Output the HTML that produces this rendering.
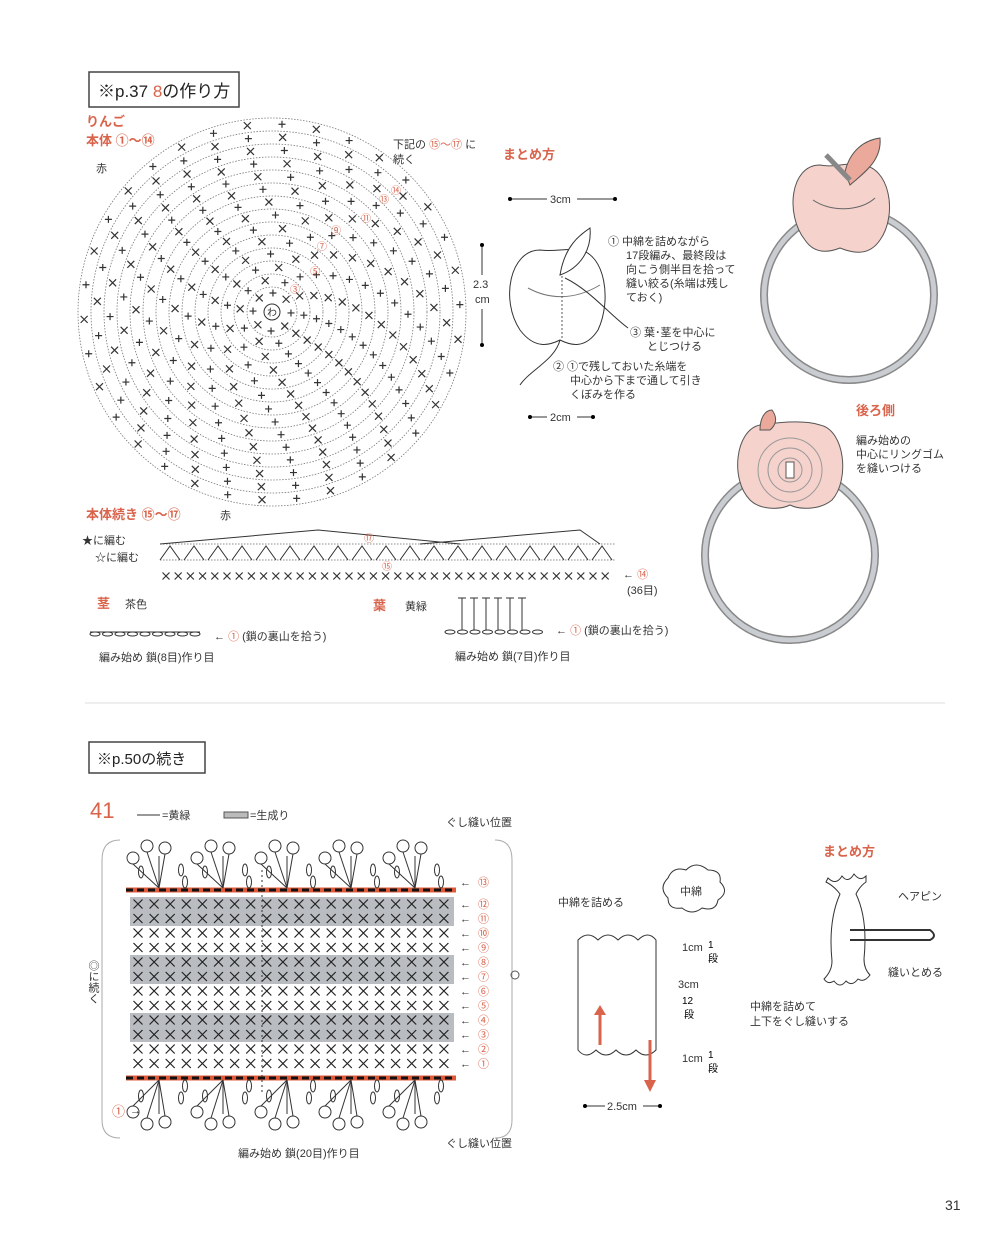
<!DOCTYPE html>
<html><head><meta charset="utf-8">
<style>
html,body{margin:0;padding:0;background:#fff;}
svg{display:block;font-family:"Liberation Sans","Noto Sans CJK JP",sans-serif;}
.r{fill:#d9634b}
.t{fill:#333;font-size:11px}
</style></head><body>
<svg id="s" width="997" height="1240" viewBox="0 0 997 1240" xmlns="http://www.w3.org/2000/svg">
<rect x="89" y="72" width="150" height="35" fill="#fff" stroke="#444" stroke-width="1.5"/>
<text x="98" y="97" font-size="17" fill="#222">※p.37 <tspan fill="#d9634b">8</tspan>の作り方</text>
<text x="86" y="126" font-size="13" class="r" font-weight="bold">りんご</text>
<text x="86" y="145" font-size="13" class="r" font-weight="bold">本体 ①〜⑭</text>
<text x="96" y="172" class="t">赤</text>
<text x="393" y="148" class="t">下記の <tspan fill="#d9634b">⑮〜⑰</tspan> に</text>
<text x="393" y="163" class="t">続く</text>
<g id="circ"></g>
<text x="503" y="159" font-size="13" class="r" font-weight="bold">まとめ方</text>
<line x1="510" y1="199" x2="615" y2="199" stroke="#333"/><circle cx="510" cy="199" r="2"/><circle cx="615" cy="199" r="2"/>
<rect x="547" y="192" width="30" height="14" fill="#fff"/><text x="550" y="203" class="t">3cm</text>
<line x1="482" y1="245" x2="482" y2="345" stroke="#333"/><circle cx="482" cy="245" r="2"/><circle cx="482" cy="345" r="2"/>
<rect x="470" y="275" width="25" height="34" fill="#fff"/><text x="473" y="288" class="t">2.3</text><text x="475" y="303" class="t">cm</text>
<path d="M540 250 C510 250 500 300 520 330 C535 350 550 345 560 340 C570 345 585 350 598 330 C612 300 605 255 580 250 C565 248 555 252 540 250Z" fill="#fff" stroke="#333"/>
<path d="M560 275 C565 245 580 235 590 228 C592 250 580 268 560 275Z" fill="#fff" stroke="#333"/>
<path d="M528 288 C550 300 575 300 600 285" fill="none" stroke="#777"/>
<line x1="562" y1="276" x2="562" y2="340" stroke="#555" stroke-dasharray="2 2"/>
<path d="M560 340 C555 360 530 370 520 385" fill="none" stroke="#333"/>
<path d="M565 278 C590 290 610 315 628 328" fill="none" stroke="#333"/>
<text x="608" y="245" class="t">① 中綿を詰めながら</text>
<text x="626" y="259" class="t">17段編み、最終段は</text>
<text x="626" y="273" class="t">向こう側半目を拾って</text>
<text x="626" y="287" class="t">縫い絞る(糸端は残し</text>
<text x="626" y="301" class="t">ておく)</text>
<text x="630" y="336" class="t">③ 葉･茎を中心に</text>
<text x="647" y="350" class="t">とじつける</text>
<text x="553" y="370" class="t">② ①で残しておいた糸端を</text>
<text x="570" y="384" class="t">中心から下まで通して引き</text>
<text x="570" y="398" class="t">くぼみを作る</text>
<line x1="530" y1="417" x2="593" y2="417" stroke="#333"/><circle cx="530" cy="417" r="2"/><circle cx="593" cy="417" r="2"/>
<rect x="547" y="410" width="30" height="14" fill="#fff"/><text x="550" y="421" class="t">2cm</text>
<circle cx="849" cy="295" r="85" fill="none" stroke="#888" stroke-width="8"/>
<circle cx="849" cy="295" r="85" fill="none" stroke="#c9ccd0" stroke-width="5"/>
<path d="M820 165 C790 165 785 215 805 240 C815 255 830 252 840 248 C850 252 868 258 880 240 C898 215 890 165 860 165 C845 162 835 168 820 165Z" fill="#f5d2cc" stroke="#555"/>
<path d="M845 172 C850 150 865 140 880 138 C882 160 865 172 850 185Z" fill="#eba99b" stroke="#555"/>
<path d="M826 155 L850 180" stroke="#888" stroke-width="5"/>
<path d="M813 200 C830 212 860 212 875 198" fill="none" stroke="#666"/>
<text x="856" y="415" font-size="13" class="r" font-weight="bold">後ろ側</text>
<text x="856" y="444" class="t">編み始めの</text>
<text x="856" y="458" class="t">中心にリングゴム</text>
<text x="856" y="472" class="t">を縫いつける</text>
<circle cx="790" cy="555" r="85" fill="none" stroke="#888" stroke-width="8"/>
<circle cx="790" cy="555" r="85" fill="none" stroke="#c9ccd0" stroke-width="5"/>
<path d="M760 425 C735 430 730 480 750 500 C760 510 780 510 790 505 C800 510 820 510 832 500 C850 480 845 430 820 425 C805 420 780 422 760 425Z" fill="#f5d2cc" stroke="#555"/>
<path d="M760 430 C760 418 765 410 772 410 C778 418 776 425 770 430Z" fill="#eba99b" stroke="#555"/>
<circle cx="790" cy="470" r="12" fill="none" stroke="#999"/><circle cx="790" cy="470" r="22" fill="none" stroke="#999"/><circle cx="790" cy="470" r="32" fill="none" stroke="#999"/>
<rect x="786" y="462" width="8" height="16" fill="#fff" stroke="#555"/>
<text x="86" y="519" font-size="13" class="r" font-weight="bold">本体続き ⑮〜⑰</text>
<text x="220" y="519" class="t">赤</text>
<text x="82" y="544" class="t">★に編む</text>
<text x="95" y="561" class="t">☆に編む</text>
<g id="cont"></g>
<text x="623" y="578" class="t">← <tspan fill="#d9634b">⑭</tspan></text>
<text x="627" y="594" class="t">(36目)</text>
<text x="97" y="608" font-size="13" class="r" font-weight="bold">茎</text>
<text x="125" y="608" class="t">茶色</text>
<text x="373" y="610" font-size="13" class="r" font-weight="bold">葉</text>
<text x="405" y="610" class="t">黄緑</text>
<g id="stem"></g>
<text x="214" y="640" class="t">← <tspan fill="#d9634b">①</tspan> (鎖の裏山を拾う)</text>
<text x="99" y="661" class="t">編み始め 鎖(8目)作り目</text>
<text x="556" y="634" class="t">← <tspan fill="#d9634b">①</tspan> (鎖の裏山を拾う)</text>
<text x="455" y="660" class="t">編み始め 鎖(7目)作り目</text>
<line x1="85" y1="703" x2="945" y2="703" stroke="#ddd"/>
<rect x="89" y="742" width="116" height="31" fill="#fff" stroke="#444" stroke-width="1.5"/>
<text x="97" y="764" font-size="15" fill="#222">※p.50の続き</text>
<text x="90" y="818" font-size="22" fill="#d9634b">41</text>
<line x1="137" y1="815" x2="160" y2="815" stroke="#333"/><text x="162" y="819" class="t">=黄緑</text>
<rect x="224" y="812" width="24" height="6" fill="#bbb" stroke="#555"/><text x="250" y="819" class="t">=生成り</text>
<text x="446" y="826" class="t">ぐし縫い位置</text>
<text x="446" y="1147" class="t">ぐし縫い位置</text>
<text x="238" y="1157" class="t">編み始め 鎖(20目)作り目</text>
<path d="M120 840 Q102 840 102 860 L102 1120 Q102 1138 120 1138" fill="none" stroke="#aaa"/>
<path d="M495 840 Q512 840 512 860 L512 1120 Q512 1138 495 1138" fill="none" stroke="#aaa"/>
<text x="93" y="960" font-size="11" fill="#333" writing-mode="tb">◎に続く</text>
<circle cx="515" cy="975" r="4" fill="none" stroke="#555"/>
<text x="112" y="1116" font-size="13" class="r">①</text><text x="130" y="1114" class="t">→</text>
<g id="grid"></g>
<text x="558" y="906" class="t">中綿を詰める</text>
<path d="M668 878 q5-12 18-8 q10-10 22 0 q14 0 12 12 q10 10-2 18 q-2 12-16 8 q-10 8-20 0 q-14 2-14-10 q-10-10 0-20z" fill="#fff" stroke="#333"/>
<text x="680" y="895" class="t">中綿</text>
<path d="M578 940 q10-10 20 0 q10-10 20 0 q10-10 20 0 q10-10 18 0 l0 110 q-10 10-20 0 q-10 10-20 0 q-10 10-20 0 q-10 10-18 0z" fill="#fff" stroke="#333"/>
<path d="M600 1045 L600 1010" stroke="#d9634b" stroke-width="3"/><path d="M594 1015 L600 1005 L606 1015Z" fill="#d9634b"/>
<path d="M650 1040 L650 1085" stroke="#d9634b" stroke-width="3"/><path d="M644 1080 L650 1092 L656 1080Z" fill="#d9634b"/>
<text x="682" y="951" class="t">1cm</text><text x="708" y="948" font-size="10">1</text><text x="708" y="962" font-size="10">段</text>
<text x="678" y="988" class="t">3cm</text><text x="682" y="1004" font-size="10">12</text><text x="684" y="1018" font-size="10">段</text>
<text x="682" y="1062" class="t">1cm</text><text x="708" y="1058" font-size="10">1</text><text x="708" y="1072" font-size="10">段</text>
<line x1="585" y1="1106" x2="660" y2="1106" stroke="#333"/><circle cx="585" cy="1106" r="2"/><circle cx="660" cy="1106" r="2"/>
<rect x="605" y="1099" width="38" height="14" fill="#fff"/><text x="607" y="1110" class="t">2.5cm</text>
<text x="823" y="856" font-size="13" class="r" font-weight="bold">まとめ方</text>
<path d="M828 878 q8 8 14-2 q6 8 12-2 q6 8 12 2 l0 6 q-6 4-10 12 q12 25 8 65 q0 10 6 16 q-6 8-12 4 q-6 8-12 2 q-6 8-12 0 q-6 4-10-2 q8-8 8-18 q-4-40 8-67 q-6-8-14-12z" fill="#fff" stroke="#333"/>
<path d="M850 930 L930 930 Q938 936 930 940 L850 940" fill="none" stroke="#333" stroke-width="2"/>
<text x="898" y="900" class="t">ヘアピン</text>
<text x="888" y="976" class="t">縫いとめる</text>
<text x="750" y="1010" class="t">中綿を詰めて</text>
<text x="750" y="1025" class="t">上下をぐし縫いする</text>
<text x="945" y="1210" font-size="14" fill="#333">31</text>
</svg>
<script>
const NS="http://www.w3.org/2000/svg";
function el(p,t,a){const e=document.createElementNS(NS,t);for(const k in a)e.setAttribute(k,a[k]);p.appendChild(e);return e;}
function X(p,x,y,s,c){el(p,'path',{d:`M${x-s} ${y-s}L${x+s} ${y+s}M${x+s} ${y-s}L${x-s} ${y+s}`,stroke:c||'#333','stroke-width':1.2});}
function P(p,x,y,s){el(p,'path',{d:`M${x-s} ${y}L${x+s} ${y}M${x} ${y-s}L${x} ${y+s}`,stroke:'#333','stroke-width':1.2});}
const c=document.getElementById('circ');const cx=272,cy=312;
for(let i=1;i<=14;i++){const r=12+i*13;
 el(c,'circle',{cx,cy,r,fill:'none',stroke:'#777','stroke-width':0.8,'stroke-dasharray':'1.5 1.5'});
 const n=6+i*2;for(let k=0;k<n;k++){const a=k/n*2*Math.PI+i*0.05;const rr=r-6;
  const x=cx+rr*Math.cos(a),y=cy+rr*Math.sin(a);(k%2?X:P)(c,x,y,3.5);}}
el(c,'circle',{cx,cy,r:8,fill:'#fff',stroke:'#333'});
el(c,'text',{x:cx-5,y:cy+4,'font-size':10,fill:'#333'}).textContent='わ';
[['③',295,289],['⑤',315,271],['⑦',322,246],['⑨',336,230],['⑪',366,218],['⑬',384,199],['⑭',396,190]].forEach(a=>{el(c,'text',{x:a[1]-5,y:a[2]+4,'font-size':10,fill:'#d9634b'}).textContent=a[0];});
const g=document.getElementById('cont');
for(let i=0;i<37;i++)X(g,166+i*12.2,576,3.5);
el(g,'line',{x1:160,y1:544,x2:615,y2:544,stroke:'#888','stroke-dasharray':'1.5 1.5'});
el(g,'line',{x1:160,y1:560,x2:615,y2:560,stroke:'#888','stroke-dasharray':'1.5 1.5'});
for(let i=0;i<19;i++){const x=170+i*24;el(g,'path',{d:`M${x-10} 560 L${x} 546 L${x+10} 560`,fill:'none',stroke:'#333'});}
el(g,'path',{d:'M160 544 L318 530 L460 544 M420 544 L580 530 L600 544',fill:'none',stroke:'#333'});
el(g,'text',{x:364,y:542,'font-size':10,fill:'#d9634b'}).textContent='⑰';
el(g,'text',{x:382,y:570,'font-size':10,fill:'#d9634b'}).textContent='⑮';
const s=document.getElementById('stem');
for(let i=0;i<9;i++)el(s,'ellipse',{cx:95+i*12.5,cy:634,rx:5,ry:2,fill:'none',stroke:'#333'});
el(s,'line',{x1:90,y1:632,x2:200,y2:632,stroke:'#333'});
for(let i=0;i<8;i++)el(s,'ellipse',{cx:450+i*12.5,cy:632,rx:5,ry:2,fill:'none',stroke:'#333'});
for(let i=0;i<6;i++){const x=462+i*12;el(s,'line',{x1:x,y1:630,x2:x,y2:598,stroke:'#333'});el(s,'line',{x1:x-4,y1:598,x2:x+4,y2:598,stroke:'#333'});}
const gr=document.getElementById('grid');
const rows=[12,11,10,9,8,7,6,5,4,3,2,1];const gray=[12,11,8,7,4,3];
rows.forEach((n,j)=>{const y=904+j*14.5;
 if(gray.includes(n))el(gr,'rect',{x:130,y:y-7,width:324,height:14.5,fill:'#b9bcc0'});
 for(let i=0;i<20;i++)X(gr,138+i*16.1,y,4.5,'#222');
 el(gr,'text',{x:460,y:y+4,'font-size':11,fill:'#333'}).textContent='←';
 el(gr,'text',{x:478,y:y+4,'font-size':11,fill:'#d9634b'}).textContent=String.fromCharCode(0x245F+n);});
el(gr,'text',{x:460,y:886,'font-size':11,fill:'#333'}).textContent='←';
el(gr,'text',{x:478,y:886,'font-size':11,fill:'#d9634b'}).textContent='⑬';
[890,1078].forEach(y=>{el(gr,'line',{x1:126,y1:y,x2:456,y2:y,stroke:'#e05a3a','stroke-width':5});
 el(gr,'line',{x1:126,y1:y,x2:456,y2:y,stroke:'#111','stroke-width':3,'stroke-dasharray':'7 4'});});
el(gr,'line',{x1:262,y1:870,x2:262,y2:1095,stroke:'#333','stroke-dasharray':'2 3'});
for(let k=0;k<5;k++){const x=155+k*64;
 [[1,848,870],[-1,1122,1098]].forEach(([d,yt,yb])=>{
  const base=d>0?888:1080;
  [[-22,yt+d*10],[-8,yt-d*2],[10,yt]].forEach(([dx,yy])=>{
   el(gr,'line',{x1:x+4,y1:base,x2:x+dx,y2:yy+d*6,stroke:'#333'});
   el(gr,'circle',{cx:x+dx,cy:yy,r:6,fill:'none',stroke:'#333'});});
  el(gr,'line',{x1:x+4,y1:base,x2:x+4,y2:yt+d*8,stroke:'#333'});
  el(gr,'ellipse',{cx:x+26,cy:yb,rx:2.5,ry:6,fill:'none',stroke:'#333'});
  el(gr,'ellipse',{cx:x+30,cy:yb+d*12,rx:2.5,ry:6,fill:'none',stroke:'#333'});
  el(gr,'ellipse',{cx:x-14,cy:yb+d*2,rx:2.5,ry:6,fill:'none',stroke:'#333'});});}
</script>
</body></html>
